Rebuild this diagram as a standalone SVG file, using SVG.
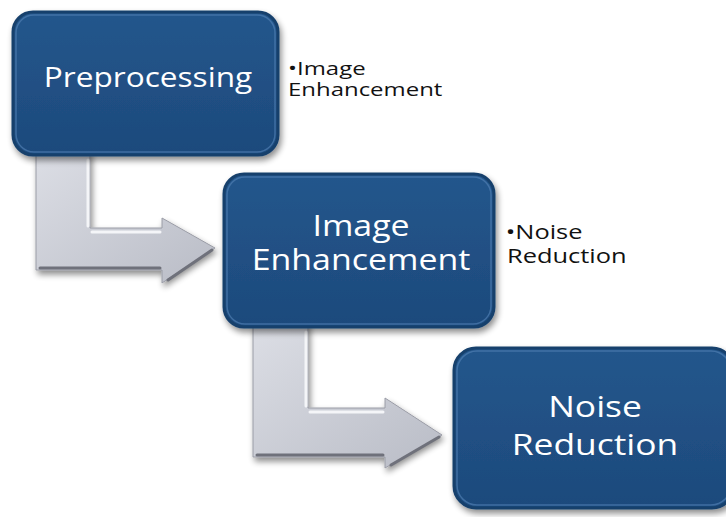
<svg xmlns="http://www.w3.org/2000/svg" width="726" height="517" viewBox="0 0 726 517">
<defs>
<linearGradient id="boxg" x1="0" y1="0" x2="0" y2="1">
<stop offset="0" stop-color="#24568c"/>
<stop offset="1" stop-color="#1d4a7c"/>
</linearGradient>
<linearGradient id="arrg" x1="0" y1="0" x2="1" y2="1">
<stop offset="0" stop-color="#dcdee5"/>
<stop offset="1" stop-color="#b9bcc6"/>
</linearGradient>
<filter id="sh" x="-10%" y="-10%" width="130%" height="130%">
<feGaussianBlur in="SourceAlpha" stdDeviation="3"/>
<feOffset dx="2" dy="4"/>
<feComponentTransfer><feFuncA type="linear" slope="0.45"/></feComponentTransfer>
<feMerge><feMergeNode/><feMergeNode in="SourceGraphic"/></feMerge>
</filter>
<style>
.box{fill:url(#boxg);stroke:#17406c;stroke-width:3;filter:url(#sh)}
.bev{fill:none;stroke:#4f7db0;stroke-width:1.5;opacity:0.7}
.lbl{font-family:"Open Sans","Liberation Sans",sans-serif;fill:#ffffff;text-anchor:middle}
.note{font-family:"Open Sans","Liberation Sans",sans-serif;fill:#111111}
.arr{fill:url(#arrg);stroke:#9a9ca6;stroke-width:1;filter:url(#sh)}
.hl{fill:none;stroke:#f4f5f8;stroke-width:3;stroke-linecap:round}
.dk{fill:none;stroke:#6f717b;stroke-width:3;stroke-linecap:round}
</style>
</defs>
<g id="connectors">
<g id="arrow1">
<path class="arr" d="M36,150 L90,150 L90,228 L162,228 L162,218 L215,248 L162,283 L162,270 L36,270 Z"/>
<path class="hl" d="M88,160 L88,226"/>
<path class="hl" d="M92,232 L160,232"/>
<path class="dk" d="M168,280 L212,250"/>
<path class="dk" d="M40,268 L160,268"/>
</g>
<g id="arrow2">
<path class="arr" d="M253,322 L308,322 L308,408 L385,408 L385,398 L442,435 L385,468 L385,457 L253,457 Z"/>
<path class="hl" d="M306,332 L306,406"/>
<path class="hl" d="M310,412 L383,412"/>
<path class="dk" d="M391,465 L439,437"/>
<path class="dk" d="M257,455 L383,455"/>
</g>
</g>
<g id="node1">
<rect class="box" x="13" y="12" width="265" height="143" rx="20"/>
<rect class="bev" x="16" y="15" width="259" height="137" rx="18"/>
<text class="lbl" transform="translate(148,87) scale(1.17,1)" font-size="27">Preprocessing</text>
</g>
<g id="note1">
<text class="note" transform="translate(288,75) scale(1.26,1)" font-size="19"><tspan x="0" y="0">•Image</tspan><tspan x="0" y="21">Enhancement</tspan></text>
</g>
<g id="node2">
<rect class="box" x="224" y="174" width="270" height="153" rx="20"/>
<rect class="bev" x="227" y="177" width="264" height="147" rx="18"/>
<text class="lbl" transform="translate(361,236) scale(1.17,1)" font-size="29"><tspan x="0" y="0">Image</tspan><tspan x="0" y="34">Enhancement</tspan></text>
</g>
<g id="note2">
<text class="note" transform="translate(507,239) scale(1.27,1)" font-size="20"><tspan x="-1" y="0">•Noise</tspan><tspan x="0" y="24">Reduction</tspan></text>
</g>
<g id="node3">
<rect class="box" x="454" y="348" width="280" height="160" rx="22"/>
<rect class="bev" x="457" y="351" width="274" height="154" rx="20"/>
<text class="lbl" transform="translate(595,417) scale(1.18,1)" font-size="30"><tspan x="0" y="0">Noise</tspan><tspan x="0" y="38">Reduction</tspan></text>
</g>
</svg>
